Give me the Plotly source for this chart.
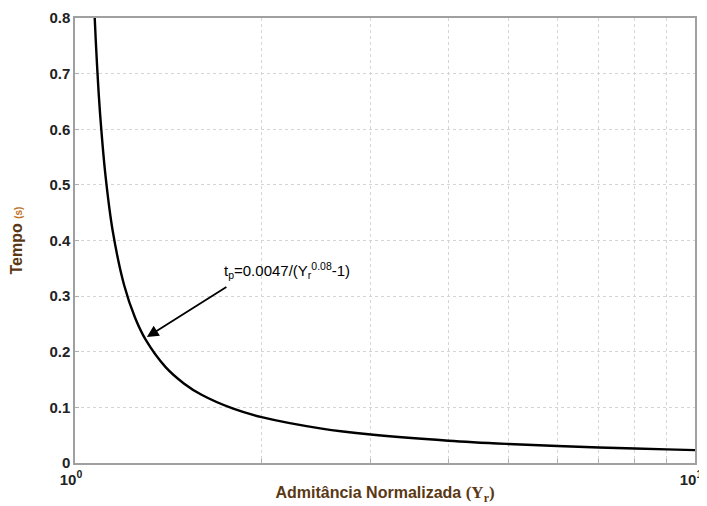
import plotly.graph_objects as go
import math

# Curve values
admitancia = [1.076, 1.08, 1.09, 1.10, 1.12, 1.15, 1.20, 1.25, 1.30, 1.40, 1.50, 1.60,
              1.80, 2.0, 2.5, 3.0, 4.0, 5.0, 6.0, 7.0, 8.0, 9.0, 10.0]
tempo = [0.800, 0.761, 0.679, 0.614, 0.516, 0.418, 0.320, 0.261, 0.2216, 0.1723, 0.1426, 0.1227,
         0.0976, 0.0824, 0.0618, 0.0512, 0.0401, 0.0342, 0.0305, 0.0279, 0.0260, 0.0245, 0.0232]

x_tickvals = [1, 2, 3, 4, 5, 6, 7, 8, 9, 10]
x_ticktext = ["10<sup>0</sup>", "", "", "", "", "", "", "", "", "10<sup>1</sup>"]
y_tickvals = [0, 0.1, 0.2, 0.3, 0.4, 0.5, 0.6, 0.7, 0.8]
y_ticktext = ["0", "0.1", "0.2", "0.3", "0.4", "0.5", "0.6", "0.7", "0.8"]

arrow_tip = (1.306, 0.2265)

fig = go.Figure()
fig.add_trace(go.Scatter(x=admitancia, y=tempo, mode="lines",
                         line=dict(color="black", width=2.4, shape="spline"),
                         showlegend=False, hoverinfo="skip"))

title_color = "#5a3814"
fig.update_layout(
    width=699, height=498,
    margin=dict(l=67, r=12, t=10, b=43, autoexpand=False),
    paper_bgcolor="white", plot_bgcolor="white",
    font=dict(family="Liberation Sans, Arial, sans-serif", color="#222"),
    xaxis=dict(type="log", range=[0, 1], tickvals=x_tickvals, ticktext=x_ticktext,
               tickfont=dict(size=15, weight="bold", color="#222"), automargin=False,
               ticklabelstandoff=2, ticklabeloverflow="allow", ticklabelshift=-4,
               showgrid=True, gridcolor="#d4d4d4", griddash="dot", gridwidth=1,
               showline=True, linecolor="#a0a0a0", linewidth=1.5, mirror=True,
               ticks="inside", ticklen=4, tickcolor="#b0b0b0", zeroline=False,
               title=dict(text="Admitância Normalizada <span style='font-family:Liberation Serif;font-size:17px'>(Y<sub>r</sub>)</span>",
                          font=dict(size=16, weight="bold", color=title_color), standoff=0)),
    yaxis=dict(range=[0, 0.8], tickvals=y_tickvals, ticktext=y_ticktext,
               tickfont=dict(size=15, weight="bold", color="#222"), automargin=False,
               ticklabeloverflow="allow",
               showgrid=True, gridcolor="#d4d4d4", griddash="dot", gridwidth=1,
               showline=True, linecolor="#a0a0a0", linewidth=1.5, mirror=True,
               ticks="inside", ticklen=4, tickcolor="#b0b0b0", zeroline=False,
               title=dict(text="Tempo <span style='font-size:10px;color:#c07020'>(s)</span>",
                          font=dict(size=16, weight="bold", color=title_color), standoff=28)),
)

# arrow
fig.add_annotation(x=math.log10(arrow_tip[0]), y=arrow_tip[1], xref="x", yref="y",
                   text="", showarrow=True, ax=81, ay=-51, arrowhead=2, arrowsize=1.3,
                   arrowwidth=1.8, arrowcolor="black", standoff=0)
# formula text
fig.add_annotation(x=math.log10(arrow_tip[0]), y=arrow_tip[1], xref="x", yref="y",
                   xshift=75, yshift=67, xanchor="left", yanchor="middle", showarrow=False,
                   text="t<sub>p</sub>=0.0047/(Y<sub>r</sub><sup>0.08</sup>-1)",
                   font=dict(size=15, color="black"))

fig.write_html("out.html")
